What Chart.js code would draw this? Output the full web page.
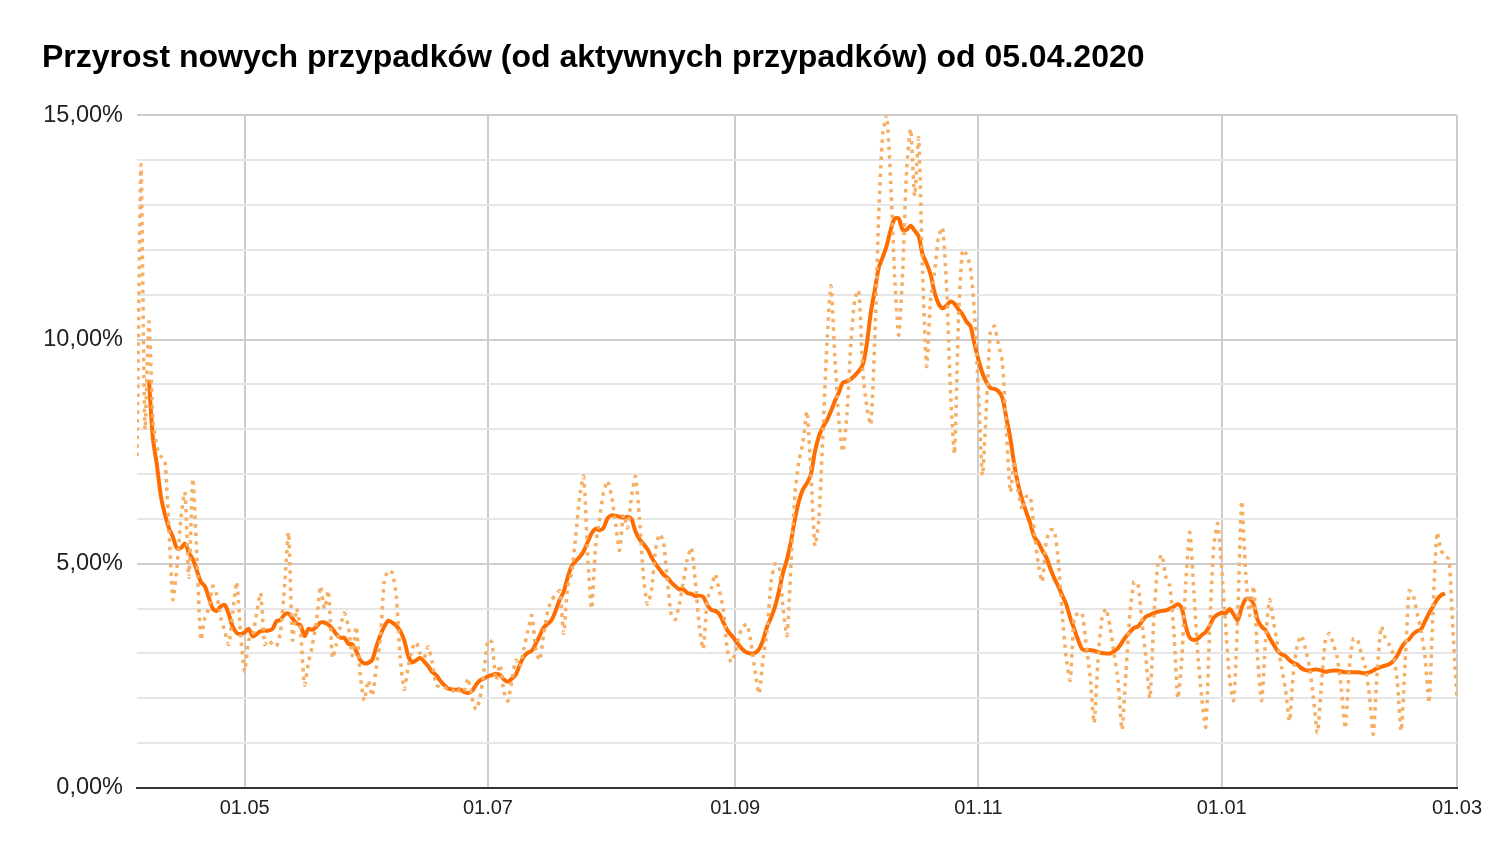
<!DOCTYPE html>
<html>
<head>
<meta charset="utf-8">
<title>Przyrost nowych przypadków</title>
<script src="https://cdn.jsdelivr.net/npm/chart.js@4.4.1/dist/chart.umd.min.js"></script>
<style>
  html, body { margin: 0; padding: 0; background: #fff; }
  #wrap { width: 1502px; height: 862px; }
</style>
</head>
<body>
<div id="wrap"><canvas id="growthChart" width="1502" height="862"></canvas></div>
<script>
// days counted from 04.04.2020 (day 0)
const xTickDays = [27, 88, 150, 211, 272, 331];
const xTickLabels = ['01.05', '01.07', '01.09', '01.11', '01.01', '01.03'];
const yMajorTicks = [0, 5, 10, 15];

// daily growth in %, day 0..331
const dailyGrowth = [
  7.4, 13.9, 8.0, 10.4, 8.2, 7.6, 7.4, 7.3, 5.8, 4.2,
  4.9, 6.0, 6.6, 4.7, 6.9, 5.2, 3.3, 3.8, 4.0, 4.5,
  4.3, 3.8, 3.5, 3.2, 3.9, 4.6, 3.4, 2.6, 3.3, 3.4,
  3.9, 4.35, 3.2, 3.3, 3.2, 3.16, 3.5, 4.5, 5.7, 3.3,
  4.0, 3.5, 2.3, 2.8, 3.2, 3.7, 4.5, 4.0, 4.4, 2.9,
  3.2, 3.6, 3.9, 3.6, 2.95, 3.6, 2.5, 1.95, 2.4, 2.05,
  2.7, 3.3, 4.6, 4.85, 4.8, 4.3, 2.9, 2.2, 2.7, 3.1,
  3.25, 3.0, 2.9, 3.15, 2.8, 2.3, 2.25, 2.25, 2.2, 2.2,
  2.1, 2.2, 2.15, 2.45, 2.0, 1.75, 2.0, 2.6, 3.3, 3.25,
  2.4, 2.75, 2.15, 1.94, 2.4, 2.85, 2.7, 3.1, 3.5, 3.85,
  3.1, 2.85, 3.45, 3.95, 4.2, 4.3, 4.4, 3.45, 4.5, 4.8,
  5.6, 6.5, 6.95, 5.2, 4.0, 5.4, 6.0, 6.6, 6.85, 6.5,
  5.9, 5.3, 6.1, 5.8, 6.5, 6.95, 6.0, 4.7, 4.1, 4.4,
  5.3, 5.66, 5.5, 4.6, 3.85, 3.76, 4.1, 4.6, 5.1, 5.36,
  4.6, 3.6, 3.1, 4.2, 4.45, 4.77, 4.4, 4.0, 3.1, 2.8,
  3.0, 3.4, 3.6, 3.65, 3.2, 2.6, 2.1, 2.9, 3.5, 4.6,
  5.0, 4.95, 4.0, 3.4, 5.0, 6.6, 7.3, 7.7, 8.4, 7.0,
  5.4, 6.0, 7.9, 9.9, 11.2, 9.6, 8.2, 7.5, 8.3, 9.9,
  10.9, 11.1, 9.3, 8.5, 8.1, 10.0, 12.8, 14.6, 15.0, 13.5,
  11.4, 10.1, 11.5, 13.8, 14.7, 13.2, 14.5, 11.5, 9.4, 10.9,
  11.5, 12.3, 12.5, 11.2, 8.8, 7.45, 10.5, 12.0, 11.9, 11.6,
  10.6, 8.8, 6.97, 8.5, 10.2, 10.3, 9.9, 9.5, 8.0, 6.6,
  7.3, 6.6, 6.2, 6.5, 6.5, 5.7, 5.0, 4.6, 5.5, 5.75,
  5.75, 5.1, 3.9, 2.9, 2.4, 3.8, 3.9, 3.9, 3.2, 2.5,
  1.45, 2.9, 3.8, 4.0, 3.6, 3.0, 2.4, 1.3, 2.6, 3.9,
  4.6, 4.55, 3.7, 2.9, 2.0, 3.8, 5.0, 5.2, 4.7, 4.5,
  3.5, 2.0, 2.9, 4.6, 5.7, 4.4, 3.0, 2.0, 1.36, 3.6,
  5.4, 5.9, 4.9, 3.6, 2.4, 1.95, 3.8, 6.4, 4.8, 3.85,
  4.5, 2.9, 1.95, 3.3, 4.2, 3.7, 3.2, 2.7, 2.2, 1.49,
  2.6, 3.2, 3.4, 3.1, 2.7, 2.0, 1.23, 2.3, 3.3, 3.45,
  3.2, 2.9, 2.2, 1.33, 2.7, 3.33, 3.32, 3.0, 2.7, 2.1,
  1.2, 2.6, 3.6, 3.35, 3.2, 3.0, 2.4, 1.27, 2.8, 4.4,
  4.3, 3.9, 3.5, 2.9, 1.9, 4.0, 5.7, 5.3, 5.17, 5.1,
  3.5, 2.0
];

// 7-day average in %, day 3..328
const avgFirstDay = 3;
const weeklyAvg = [
  9.1, 7.8, 7.2, 6.5, 6.1, 5.8, 5.6, 5.35, 5.35, 5.45,
  5.25, 5.1, 4.85, 4.6, 4.5, 4.25, 4.0, 3.95, 4.05, 4.08,
  3.88, 3.6, 3.46, 3.43, 3.47, 3.55, 3.38, 3.43, 3.5, 3.51,
  3.51, 3.55, 3.72, 3.75, 3.87, 3.89, 3.78, 3.67, 3.63, 3.39,
  3.55, 3.53, 3.6, 3.69, 3.69, 3.64, 3.55, 3.43, 3.35, 3.35,
  3.22, 3.2, 3.05, 2.85, 2.78, 2.79, 2.86, 3.15, 3.4, 3.6,
  3.73, 3.69, 3.62, 3.5, 3.3, 2.95, 2.8, 2.85, 2.9, 2.82,
  2.72, 2.59, 2.52, 2.4, 2.3, 2.22, 2.2, 2.19, 2.2, 2.14,
  2.12, 2.16, 2.3, 2.4, 2.44, 2.49, 2.52, 2.55, 2.52, 2.42,
  2.37, 2.44, 2.53, 2.75, 2.93, 3.02, 3.06, 3.22, 3.4, 3.58,
  3.66, 3.75, 3.96, 4.2, 4.38, 4.7, 4.95, 5.06, 5.15, 5.28,
  5.48, 5.68, 5.78, 5.75, 5.8, 6.02, 6.08, 6.07, 6.05, 6.03,
  6.05, 6.0, 5.72, 5.55, 5.44, 5.33, 5.15, 5.0, 4.88, 4.76,
  4.69, 4.58, 4.5, 4.43, 4.43, 4.35, 4.33, 4.28, 4.29, 4.26,
  4.08, 3.97, 3.95, 3.88, 3.7, 3.52, 3.41, 3.3, 3.18, 3.08,
  3.02, 3.0, 3.01, 3.1, 3.3, 3.6, 3.8, 4.05, 4.4, 4.8,
  5.1, 5.5, 6.0, 6.4, 6.66, 6.8, 7.0, 7.5, 7.85, 8.05,
  8.2, 8.4, 8.63, 8.82, 9.04, 9.07, 9.12, 9.2, 9.3, 9.44,
  9.9, 10.6, 11.1, 11.6, 11.84, 12.1, 12.45, 12.7, 12.7, 12.45,
  12.45, 12.54, 12.43, 12.3, 11.9, 11.7, 11.45, 11.05, 10.8, 10.7,
  10.76, 10.85, 10.8, 10.67, 10.56, 10.4, 10.3, 9.9, 9.55, 9.25,
  9.05, 8.92, 8.9, 8.85, 8.7, 8.25, 7.8, 7.2, 6.75, 6.42,
  6.15, 5.9, 5.6, 5.48, 5.3, 5.15, 4.9, 4.68, 4.5, 4.3,
  4.1, 3.8, 3.55, 3.3, 3.1, 3.07, 3.08, 3.06, 3.03, 3.01,
  3.0, 3.0, 3.05, 3.12, 3.25, 3.38, 3.48, 3.57, 3.6, 3.72,
  3.82, 3.86, 3.9, 3.93, 3.95, 3.96, 4.0, 4.05, 4.1, 4.0,
  3.6, 3.35, 3.3, 3.33, 3.41, 3.48, 3.62, 3.8, 3.87, 3.91,
  3.9, 3.99, 3.87, 3.75, 4.02, 4.21, 4.22, 4.1, 3.75, 3.6,
  3.52, 3.35, 3.2, 3.06, 2.98, 2.94, 2.85, 2.79, 2.75, 2.67,
  2.63, 2.62, 2.64, 2.64, 2.62, 2.59, 2.61, 2.62, 2.62, 2.6,
  2.58, 2.58, 2.58, 2.58, 2.57, 2.56, 2.58, 2.62, 2.67, 2.7,
  2.73, 2.76, 2.83, 2.95, 3.12, 3.25, 3.32, 3.43, 3.5, 3.54,
  3.72, 3.9, 4.05, 4.2, 4.3, 4.34
];

Chart.defaults.font.family = '"Liberation Sans", Arial, sans-serif';
Chart.defaults.color = '#222222';

const dailyPoints = dailyGrowth.map((v, i) => ({ x: i, y: v }));
const avgPoints = weeklyAvg.map((v, i) => ({ x: i + avgFirstDay, y: v }));

const ctx = document.getElementById('growthChart').getContext('2d');
const growthChart = new Chart(ctx, {
    type: 'line',
    data: {
        datasets: [
            {
                label: 'Przyrost dzienny',
                data: dailyPoints,
                borderColor: '#f6ae64',
                borderWidth: 3.5,
                borderDash: [3.5, 5],
                pointRadius: 0,
                tension: 0.2
            },
            {
                label: 'Średnia 7-dniowa',
                data: avgPoints,
                borderColor: '#ff6d01',
                borderWidth: 4,
                pointRadius: 0,
                tension: 0.3
            }
        ]
    },
    options: {
        responsive: false,
        animation: false,
        layout: {
            padding: { left: 42, right: 45, top: 0, bottom: 34 }
        },
        plugins: {
            legend: { display: false },
            tooltip: { enabled: false },
            title: {
                display: true,
                text: 'Przyrost nowych przypadków (od aktywnych przypadków) od 05.04.2020',
                align: 'start',
                color: '#000000',
                font: { size: 32, weight: 'bold' },
                padding: { top: 39, bottom: 38 }
            }
        },
        scales: {
            x: {
                type: 'linear',
                min: 0,
                max: 331,
                afterBuildTicks: function(scale) {
                    scale.ticks = xTickDays.map(function(d) { return { value: d }; });
                },
                ticks: {
                    autoSkip: false,
                    maxRotation: 0,
                    padding: 8,
                    font: { size: 20 },
                    callback: function(value) {
                        return xTickLabels[xTickDays.indexOf(value)];
                    }
                },
                grid: { color: '#cccccc', lineWidth: 2, drawTicks: false },
                border: { display: true, color: '#333333', width: 2 },
                afterFit: function(scale) { scale.height = 40; }
            },
            y: {
                min: 0,
                max: 15,
                ticks: {
                    stepSize: 1,
                    autoSkip: false,
                    padding: 14,
                    font: { size: 23.5 },
                    callback: function(value) {
                        if (yMajorTicks.indexOf(value) === -1) return '';
                        return value.toFixed(2).replace('.', ',') + '%';
                    }
                },
                grid: {
                    color: function(c) {
                        return c.tick && c.tick.value % 5 === 0 ? '#cccccc' : '#e6e6e6';
                    },
                    lineWidth: 2,
                    drawTicks: false
                },
                border: { display: false },
                afterFit: function(scale) { scale.width = 95; }
            }
        }
    }
});
</script>
</body>
</html>
